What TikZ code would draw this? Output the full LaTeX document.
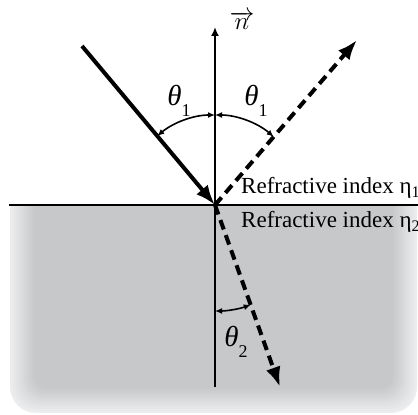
\documentclass[tikz,border=0pt]{standalone}
\usepackage{fontspec}
\setmainfont{Liberation Serif}
\usetikzlibrary{arrows.meta, positioning}

\definecolor{glassin}{RGB}{199,200,202}
\definecolor{glassout}{RGB}{236,237,239}

\newcommand{\angsub}[1]{{\fontsize{29}{32}\selectfont\itshape θ}\raisebox{-0.45em}{\fontsize{18}{20}\selectfont #1}}

\tikzset{
  ray/.style={line width=4pt, -{Latex[length=20pt,width=15pt]}},
  dashray/.style={ray, dash pattern=on 10pt off 6pt},
  anglearc/.style={line width=1.6pt, {Latex[length=7pt,width=6pt]}-{Latex[length=7pt,width=6pt]}},
  lbl/.style={font=\fontsize{23}{27}\selectfont, inner sep=0pt},
}

\begin{document}
\begin{tikzpicture}[x=1pt,y=1pt]
\clip (0,0) rectangle (418,415);

% second medium
\begin{scope}
\clip (0,0) rectangle (418,210);
\foreach \d in {0,2,...,24} {
  \pgfmathsetmacro\p{100*\d/24}
  \pgfmathsetmacro\r{26-\d/2}
  \fill[glassin!\p!glassout, rounded corners=\r pt] (10+\d,2+\d) rectangle (417-\d,240);
}
\end{scope}

\coordinate (O) at (215,210);
\coordinate (inc) at (82,369);
\coordinate (refl) at (357,375);
\coordinate (refr) at (280,28);
\coordinate (ntop) at (215,388);
\coordinate (nbot) at (215,28);
\coordinate (sl) at (9,210);
\coordinate (sr) at (418,210);

% interface and normal
\draw[line width=2.4pt] (sl) -- (sr);
\draw[line width=2pt, -{Latex[length=9pt,width=8pt]}] (nbot) -- (ntop);
\node[lbl, font=\fontsize{28}{30}\selectfont, anchor=base] (nvec) at (242,385) {$\overrightarrow{n}$};

% rays
\draw[ray] (inc) -- (O);
\draw[dashray] (O) -- (refl);
\draw[dashray] (O) -- (refr);

% angles
\draw[anglearc] ([shift={(90:90)}]O) arc[start angle=90, end angle=129.9, radius=90];
\draw[anglearc] ([shift={(90:90)}]O) arc[start angle=90, end angle=49.3, radius=90];
\draw[anglearc] ([shift={(270:106)}]O) arc[start angle=270, end angle=289.7, radius=106];
\node[lbl] (t1l) at (179,314) {\angsub{1}};
\node[lbl] (t1r) at (256,314) {\angsub{1}};
\node[lbl] (t2) at (236,73) {\angsub{2}};

% media
\node[lbl, anchor=base west] (med1) at (241,221) {Refractive index η\textsubscript{1}};
\node[lbl, anchor=base west] (med2) at (241,187) {Refractive index η\textsubscript{2}};
\end{tikzpicture}
\end{document}
